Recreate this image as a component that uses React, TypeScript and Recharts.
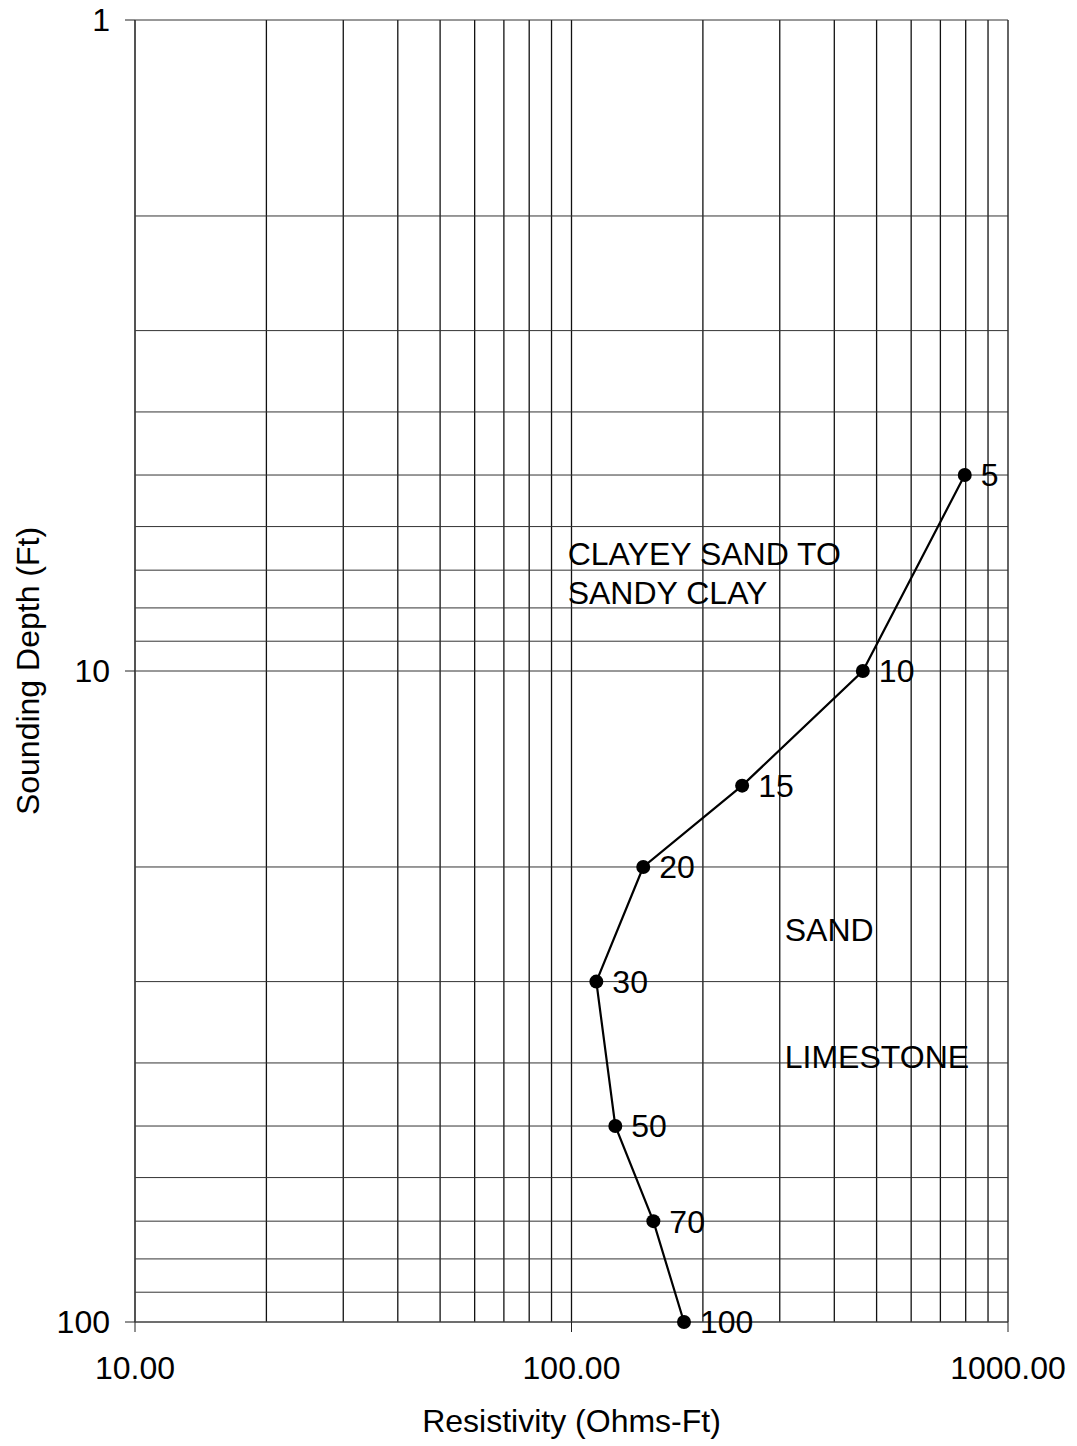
import React from 'react';
import {
  LineChart, Line, XAxis, YAxis, CartesianGrid, LabelList, ReferenceDot,
} from 'recharts';

// Sounding depth (ft) and apparent resistivity (ohm-ft)
const depths = [5, 10, 15, 20, 30, 50, 70, 100];
const resistivity = [796, 465, 246, 146, 114, 126, 154, 181];

const xTicks = [10, 100, 1000];
const yTicks = [1, 10, 100];

// log grid: every integer step of each decade
const xGrid = [10, 20, 30, 40, 50, 60, 70, 80, 90, 100, 200, 300, 400, 500, 600, 700, 800, 900, 1000];
const yGrid = [1, 2, 3, 4, 5, 6, 7, 8, 9, 10, 20, 30, 40, 50, 60, 70, 80, 90, 100];

// soil layer notes, anchored at (resistivity, depth) of their left edge
const noteText = ['CLAYEY SAND TO', 'SANDY CLAY', 'SAND', 'LIMESTONE'];
const noteX = [98, 98, 308, 308];
const noteY = [6.6, 7.6, 25, 39.2];

const FONT = '"Liberation Sans", Arial, Helvetica, sans-serif';
const FS = 32;

const data = depths.map((d, i) => ({ depth: d, rho: resistivity[i] }));
const notes = noteText.map((t, i) => ({ text: t, x: noteX[i], y: noteY[i] }));

export default function App() {
  return (
    <div style={{ position: 'absolute', left: 0, top: 0, background: '#fff' }}>
      <LineChart
        width={1077}
        height={1446}
        data={data}
        margin={{ top: 20, right: 69, bottom: 0, left: 0 }}
        style={{ fontFamily: FONT }}
      >
        <CartesianGrid horizontal={false} verticalValues={xGrid} stroke="#111" strokeWidth={1.3} />
        <CartesianGrid vertical={false} horizontalValues={yGrid} stroke="#333" strokeWidth={1} />
        <XAxis
          type="number"
          dataKey="rho"
          scale="log"
          domain={[10, 1000]}
          ticks={xTicks}
          interval={0}
          height={124}
          tickSize={10}
          tickMargin={24}
          tickFormatter={(v: number) => v.toFixed(2)}
          tick={{ fontSize: FS, fill: '#000', fontFamily: FONT }}
          axisLine={{ stroke: '#444' }}
          tickLine={{ stroke: '#222' }}
          label={{
            content: ({ viewBox }: any) => (
              <text
                x={viewBox.x + viewBox.width / 2}
                y={viewBox.y + 110}
                textAnchor="middle"
                fontSize={FS}
                fontFamily={FONT}
                fill="#000"
              >
                Resistivity (Ohms-Ft)
              </text>
            ),
          }}
        />
        <YAxis
          type="number"
          scale="log"
          domain={[1, 100]}
          reversed
          ticks={yTicks}
          interval={0}
          width={135}
          tickSize={10}
          tickMargin={15}
          tick={{ fontSize: FS, fill: '#000', fontFamily: FONT }}
          axisLine={{ stroke: '#444' }}
          tickLine={{ stroke: '#222' }}
          label={{
            content: ({ viewBox }: any) => {
              const cx = viewBox.x + 28;
              const cy = viewBox.y + viewBox.height / 2;
              return (
                <text
                  x={cx}
                  y={cy}
                  transform={`rotate(-90 ${cx} ${cy})`}
                  textAnchor="middle"
                  dominantBaseline="central"
                  fontSize={FS}
                  fontFamily={FONT}
                  fill="#000"
                >
                  Sounding Depth (Ft)
                </text>
              );
            },
          }}
        />
        {notes.map((n) => (
          <ReferenceDot
            key={n.text}
            x={n.x}
            y={n.y}
            r={0}
            shape={(p: any) => (
              <text
                x={p.cx}
                y={p.cy}
                dominantBaseline="central"
                fontSize={FS}
                fontFamily={FONT}
                fill="#000"
              >
                {n.text}
              </text>
            )}
          />
        ))}
        <Line
          dataKey="depth"
          stroke="#000"
          strokeWidth={2.2}
          dot={{ r: 7, fill: '#000', stroke: 'none' }}
          activeDot={false}
          isAnimationActive={false}
        >
          <LabelList
            dataKey="depth"
            position="right"
            offset={16}
            fontSize={FS}
            fill="#000"
            fontFamily={FONT}
          />
        </Line>
      </LineChart>
    </div>
  );
}
